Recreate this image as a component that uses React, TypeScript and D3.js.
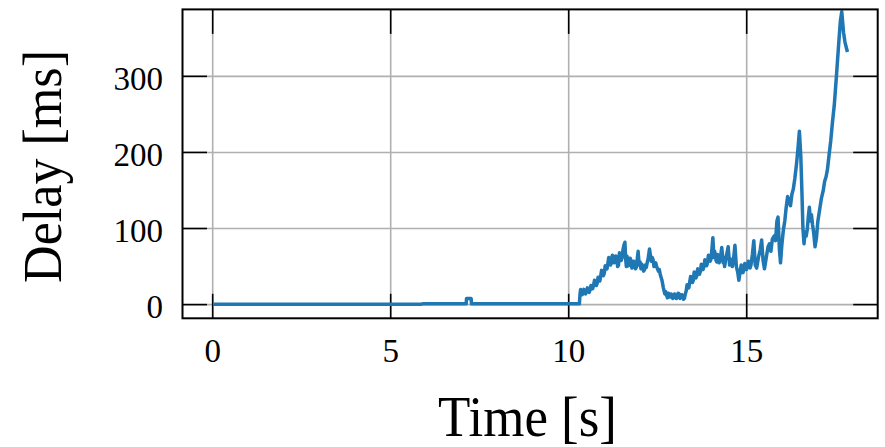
import React from "react";
import * as d3 from "d3";

// Delay trace over time (seconds, milliseconds)
const timeS: number[] = [
  0.02, 5.85, 5.9, 7.12, 7.13, 7.26, 7.27, 10.28,
  10.3, 10.32, 10.335, 10.35, 10.375, 10.4, 10.425, 10.45, 10.475, 10.5, 10.525, 10.55, 10.575,
  10.6, 10.625, 10.65, 10.675, 10.7, 10.725, 10.75, 10.775, 10.8, 10.825, 10.85, 10.875, 10.9,
  10.925, 10.95, 10.975, 11.0, 11.025, 11.05, 11.075, 11.1, 11.125, 11.15, 11.175, 11.2, 11.225,
  11.25, 11.275, 11.3, 11.325, 11.35, 11.375, 11.4, 11.425, 11.45, 11.475, 11.5, 11.525, 11.55,
  11.58, 11.6, 11.62, 11.635, 11.65, 11.675, 11.7, 11.725, 11.75, 11.775, 11.8, 11.825, 11.85,
  11.875, 11.9, 11.95, 11.98, 12.005, 12.03, 12.055, 12.08, 12.105, 12.13, 12.155, 12.18, 12.205,
  12.23, 12.27, 12.32, 12.345, 12.37, 12.395, 12.42, 12.445, 12.47, 12.495, 12.52, 12.545, 12.57,
  12.595, 12.62, 12.66, 12.7, 12.725, 12.75, 12.775, 12.8, 12.825, 12.85, 12.875, 12.9, 12.925,
  12.95, 12.975, 13.0, 13.025, 13.05, 13.075, 13.1, 13.125, 13.15, 13.175, 13.2, 13.225, 13.25,
  13.275, 13.3, 13.325, 13.35, 13.375, 13.4, 13.425, 13.45, 13.475, 13.5, 13.525, 13.55, 13.575,
  13.6, 13.625, 13.65, 13.675, 13.7, 13.725, 13.75, 13.775, 13.8, 13.825, 13.85, 13.875, 13.9,
  13.925, 13.95, 13.975, 14.0, 14.05, 14.08, 14.1, 14.12, 14.14, 14.16, 14.18, 14.2, 14.225, 14.25,
  14.3, 14.34, 14.36, 14.38, 14.405, 14.43, 14.48, 14.52, 14.545, 14.57, 14.595, 14.62, 14.67,
  14.71, 14.75, 14.78, 14.82, 14.845, 14.87, 14.895, 14.92, 14.945, 14.97, 14.995, 15.02, 15.045,
  15.07, 15.095, 15.12, 15.16, 15.2, 15.24, 15.28, 15.33, 15.38, 15.42, 15.46, 15.5, 15.55, 15.6,
  15.64, 15.68, 15.72, 15.77, 15.81, 15.85, 15.88, 15.92, 15.95, 15.99, 16.03, 16.07, 16.11, 16.15,
  16.19, 16.23, 16.27, 16.31, 16.35, 16.4, 16.44, 16.48, 16.52, 16.55, 16.58, 16.61, 16.64, 16.67,
  16.7, 16.73, 16.76, 16.79, 16.82, 16.85, 16.88, 16.92, 16.96, 17.0, 17.05, 17.1, 17.15, 17.19,
  17.23, 17.27, 17.31, 17.36, 17.41, 17.46, 17.52, 17.58, 17.63, 17.67, 17.72, 17.76, 17.83,
];

const delayMs: number[] = [
  0.5, 0.5, 1, 1, 8, 8, 1, 1,
  1, 15, 20, 18, 13, 14, 20, 19, 14, 17, 22, 21, 16,
  19, 25, 24, 21, 26, 32, 31, 25, 28, 36, 35, 31, 38,
  45, 44, 38, 41, 51, 50, 47, 54, 62, 60, 52, 55, 65,
  63, 55, 57, 64, 60, 50, 52, 68, 66, 58, 62, 72, 78,
  82, 60, 50, 64, 60, 51, 54, 61, 58, 48, 50, 57, 55,
  47, 49, 70, 52, 56, 47, 53, 50, 44, 46, 52, 49, 55,
  60, 73, 57, 62, 59, 50, 52, 55, 50, 47, 44, 46, 40,
  36, 32, 22, 14, 17, 12, 9, 15, 12, 10, 14, 13, 8,
  9, 14, 12, 8, 10, 15, 14, 8, 9, 13, 11, 7, 8,
  14, 18, 26, 25, 22, 30, 37, 36, 29, 32, 43, 42, 35,
  38, 47, 46, 40, 44, 53, 52, 46, 50, 59, 58, 51, 55,
  65, 64, 57, 60, 88, 62, 70, 66, 58, 56, 66, 64, 55, 58,
  75, 55, 62, 50, 58, 64, 76, 52, 60, 58, 50, 55, 78,
  50, 42, 32, 44, 52, 48, 42, 46, 54, 52, 46, 50, 57,
  55, 48, 52, 66, 84, 52, 48, 62, 72, 85, 58, 47, 62, 76,
  80, 70, 86, 90, 84, 110, 115, 72, 55, 80, 98, 110, 128, 142,
  136, 130, 145, 152, 165, 185, 205, 228, 195, 150, 100, 80, 95, 90,
  98, 115, 128, 110, 118, 105, 95, 76, 88, 110, 125, 140, 150, 162,
  168, 178, 195, 215, 240, 262, 300, 340, 372, 385, 358, 345, 332,
];

const xTicks: number[] = [0, 5, 10, 15];
const yTicks: number[] = [0, 100, 200, 300];
const xLabel = "Time [s]";
const yLabel = "Delay [ms]";

const W = 885;
const H = 447;
const left = 182.5;
const right = 877.7;
const top = 9.4;
const bottom = 318.3;
const tickLen = 24.5;
const font = "'Liberation Serif', 'DejaVu Serif', serif";

export default function App() {
  const x = d3.scaleLinear().domain([-0.848, 18.68]).range([left, right]);
  const y = d3.scaleLinear().domain([-18, 388]).range([bottom, top]);

  const points: [number, number][] = timeS.map((t, i) => [t, delayMs[i]]);
  const path = d3
    .line<[number, number]>()
    .x((d) => x(d[0]))
    .y((d) => y(d[1]))(points) as string;

  return (
    <svg
      width={W}
      height={H}
      style={{ position: "absolute", left: 0, top: 0, display: "block", background: "#fff" }}
    >
      {/* grid */}
      <g stroke="#b0b0b0" strokeWidth={1.6}>
        {xTicks.map((t) => (
          <line key={"gx" + t} x1={x(t)} x2={x(t)} y1={top} y2={bottom} />
        ))}
        {yTicks.map((t) => (
          <line key={"gy" + t} x1={left} x2={right} y1={y(t)} y2={y(t)} />
        ))}
      </g>

      {/* inward ticks on all four sides */}
      <g stroke="#000" strokeWidth={1.6}>
        {xTicks.map((t) => (
          <g key={"tx" + t}>
            <line x1={x(t)} x2={x(t)} y1={bottom} y2={bottom - tickLen} />
            <line x1={x(t)} x2={x(t)} y1={top} y2={top + tickLen} />
          </g>
        ))}
        {yTicks.map((t) => (
          <g key={"ty" + t}>
            <line x1={left} x2={left + tickLen} y1={y(t)} y2={y(t)} />
            <line x1={right} x2={right - tickLen} y1={y(t)} y2={y(t)} />
          </g>
        ))}
      </g>

      {/* delay trace */}
      <path
        d={path}
        fill="none"
        stroke="#1f77b4"
        strokeWidth={3.5}
        strokeLinejoin="round"
        strokeLinecap="butt"
      />

      {/* frame */}
      <rect
        x={left}
        y={top}
        width={right - left}
        height={bottom - top}
        fill="none"
        stroke="#000"
        strokeWidth={2}
      />

      {/* tick labels */}
      <g fontFamily={font} fontSize={33} fill="#000">
        {xTicks.map((t) => (
          <text key={"lx" + t} x={x(t)} y={361.5} textAnchor="middle">
            {t}
          </text>
        ))}
        {yTicks.map((t) => (
          <text key={"ly" + t} x={163} y={y(t) + 13.5} textAnchor="end">
            {t}
          </text>
        ))}
      </g>

      {/* axis titles */}
      <text
        x={527.5}
        y={436}
        textAnchor="middle"
        fontFamily={font}
        fontSize={57}
        textLength={179}
        lengthAdjust="spacingAndGlyphs"
      >
        {xLabel}
      </text>
      <text
        transform={`translate(61, 166.5) rotate(-90)`}
        textAnchor="middle"
        fontFamily={font}
        fontSize={55}
        textLength={233}
        lengthAdjust="spacingAndGlyphs"
      >
        {yLabel}
      </text>
    </svg>
  );
}
